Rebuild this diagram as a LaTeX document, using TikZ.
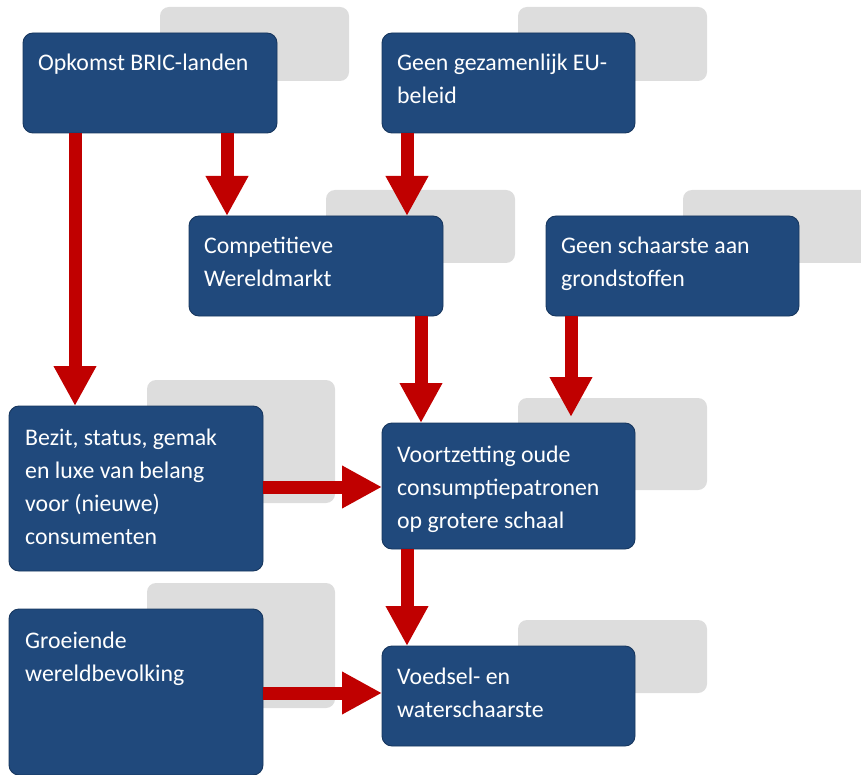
\documentclass[tikz,border=0pt]{standalone}
\usepackage{fontspec}
\setmainfont{Carlito}
\usetikzlibrary{arrows.meta,calc}
\definecolor{boxblue}{RGB}{32,73,124}
\definecolor{boxedge}{RGB}{22,54,94}
\definecolor{shadegrey}{RGB}{221,221,221}
\definecolor{arrred}{RGB}{192,0,0}
\begin{document}
\begin{tikzpicture}[x=1pt,y=-1pt,
  bluebox/.style={draw=boxedge, line width=0.9pt, fill=boxblue, rounded corners=10pt, inner sep=0pt, outer sep=0pt, anchor=north west},
  greybox/.style={fill=shadegrey, rounded corners=9pt, inner sep=0pt, outer sep=0pt, anchor=north west},
  txt/.style={text=white, font=\fontsize{23.8}{33}\selectfont, align=left, inner sep=0pt, anchor=base west},
  bigarrow/.style={draw=arrred, line width=13pt, -{Triangle[width=40pt,length=40pt]}}]
\clip (0,0) rectangle (861,775);
\useasboundingbox (0,0) rectangle (861,775);
% grey shadow boxes
\node[greybox, minimum width=189pt, minimum height=74pt] (g1) at (160,7) {};
\node[greybox, minimum width=189pt, minimum height=74pt] (g2) at (518,7) {};
\node[greybox, minimum width=189pt, minimum height=73pt] (g3) at (326,190) {};
\node[greybox, minimum width=189pt, minimum height=73pt] (g4) at (683,190) {};
\node[greybox, minimum width=188pt, minimum height=123pt] (g5) at (147,380) {};
\node[greybox, minimum width=189pt, minimum height=92pt] (g6) at (518,398) {};
\node[greybox, minimum width=188pt, minimum height=125pt] (g7) at (147,583) {};
\node[greybox, minimum width=189pt, minimum height=73pt] (g8) at (518,620) {};
% blue boxes
\node[bluebox, minimum width=254pt, minimum height=100pt] (opk) at (23,33) {};
\node[bluebox, minimum width=253pt, minimum height=100pt] (eu) at (382,33) {};
\node[bluebox, minimum width=254pt, minimum height=100pt] (comp) at (189,216) {};
\node[bluebox, minimum width=253pt, minimum height=100pt] (schaar) at (546,216) {};
\node[bluebox, minimum width=254pt, minimum height=165pt] (bez) at (9,406) {};
\node[bluebox, minimum width=253pt, minimum height=126pt] (voort) at (382,423) {};
\node[bluebox, minimum width=254pt, minimum height=166pt] (groei) at (9,609) {};
\node[bluebox, minimum width=253pt, minimum height=100pt] (voed) at (382,646) {};
% arrows
\draw[bigarrow] (opk.south -| 75,0) -- (bez.north -| 75,0);
\draw[bigarrow] (opk.south -| 227,0) -- (comp.north -| 227,0);
\draw[bigarrow] (eu.south -| 407,0) -- (comp.north -| 407,0);
\draw[bigarrow] (comp.south -| 421,0) -- (voort.north -| 421,0);
\draw[bigarrow] (schaar.south -| 571,0) -- ($(voort.north -| 571,0)+(0,-6)$);
\draw[bigarrow] (bez.east |- 0,487) -- (voort.west |- 0,487);
\draw[bigarrow] (voort.south -| 407,0) -- (voed.north -| 407,0);
\draw[bigarrow] (groei.east |- 0,693) -- (voed.west |- 0,693);
% texts (base anchor = baseline of the last line)
\node[txt] (t1) at ($(opk.north west)+(15,38)$) {Opkomst BRIC-landen};
\node[txt] (t2) at ($(eu.north west)+(15,71)$) {Geen gezamenlijk EU-\\beleid};
\node[txt] (t3) at ($(comp.north west)+(15,71)$) {Competitieve\\Wereldmarkt};
\node[txt] (t4) at ($(schaar.north west)+(15,71)$) {Geen schaarste aan\\grondstoffen};
\node[txt] (t5) at ($(bez.north west)+(16,138)$) {Bezit, status, gemak\\en luxe van belang\\voor (nieuwe)\\consumenten};
\node[txt] (t6) at ($(voort.north west)+(15,105)$) {Voortzetting oude\\consumptiepatronen\\op grotere schaal};
\node[txt] (t7) at ($(groei.north west)+(16,72)$) {Groeiende\\wereldbevolking};
\node[txt] (t8) at ($(voed.north west)+(15,71)$) {Voedsel- en\\waterschaarste};
\end{tikzpicture}
\end{document}
